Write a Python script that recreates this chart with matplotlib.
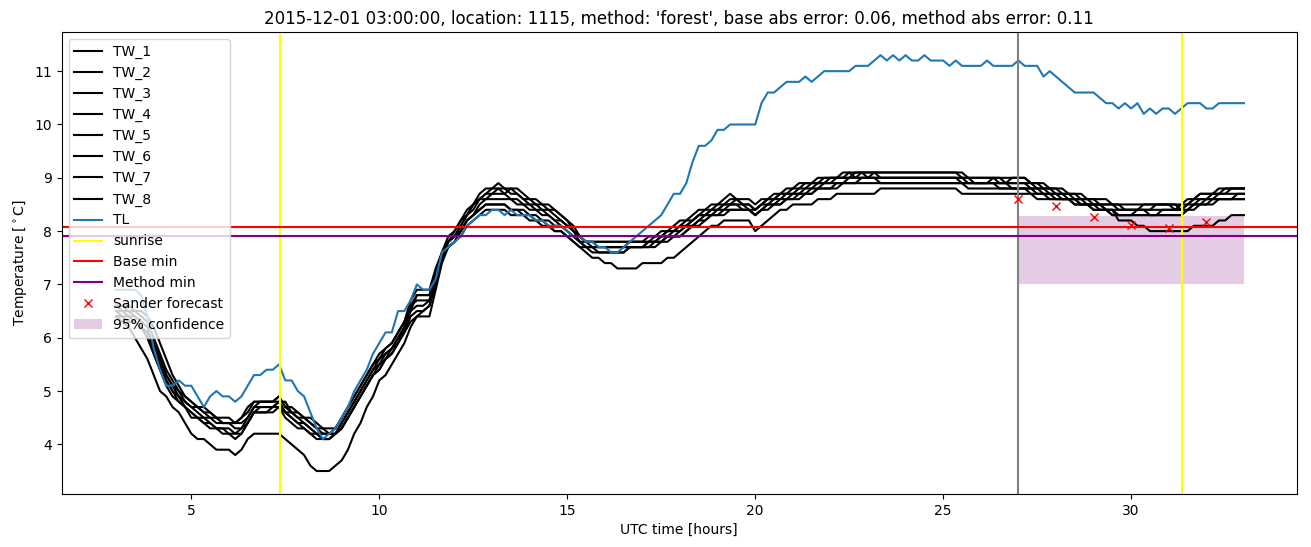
import numpy as np
import matplotlib
matplotlib.use("Agg")
import matplotlib.pyplot as plt

# 10-minute samples from 03:00 to 33:00 UTC (hours since 2015-11-30 00:00)
hours = 3 + np.arange(181) / 6

# road surface temperatures, one row per hour
tw_1 = [6.6, 6.6, 6.5, 6.5, 6.4, 6.3,
        6.0, 5.7, 5.4, 5.2, 5.0, 4.9,
        4.8, 4.7, 4.7, 4.6, 4.5, 4.5,
        4.5, 4.4, 4.5, 4.7, 4.8, 4.8,
        4.8, 4.8, 4.9, 4.7, 4.7, 4.6,
        4.5, 4.4, 4.3, 4.3, 4.3, 4.3,
        4.5, 4.7, 4.9, 5.1, 5.3, 5.5,
        5.7, 5.8, 5.9, 6.1, 6.3, 6.7,
        6.9, 6.9, 6.9, 7.3, 7.6, 7.9,
        8.0, 8.2, 8.4, 8.5, 8.7, 8.8,
        8.8, 8.9, 8.8, 8.8, 8.8, 8.7,
        8.6, 8.6, 8.5, 8.5, 8.4, 8.3,
        8.2, 8.1, 7.9, 7.8, 7.8, 7.8,
        7.8, 7.8, 7.8, 7.8, 7.8, 7.8,
        7.8, 7.9, 7.9, 8.0, 8.0, 8.1,
        8.2, 8.2, 8.3, 8.4, 8.4, 8.5,
        8.5, 8.6, 8.7, 8.6, 8.6, 8.6,
        8.5, 8.6, 8.6, 8.7, 8.7, 8.8,
        8.8, 8.9, 8.9, 8.9, 9.0, 9.0,
        9.0, 9.0, 9.1, 9.1, 9.1, 9.1,
        9.1, 9.1, 9.1, 9.1, 9.1, 9.1,
        9.1, 9.1, 9.1, 9.1, 9.1, 9.1,
        9.1, 9.1, 9.1, 9.0, 9.0, 9.0,
        9.0, 9.0, 9.0, 9.0, 9.0, 9.0,
        9.0, 9.0, 8.9, 8.9, 8.8, 8.8,
        8.8, 8.8, 8.7, 8.7, 8.7, 8.6,
        8.6, 8.6, 8.6, 8.5, 8.5, 8.5,
        8.5, 8.5, 8.5, 8.5, 8.5, 8.5,
        8.5, 8.5, 8.5, 8.6, 8.6, 8.7,
        8.7, 8.7, 8.8, 8.8, 8.8, 8.8,
        8.8]
tw_2 = [6.6, 6.6, 6.6, 6.5, 6.5, 6.4,
        6.2, 5.9, 5.6, 5.3, 5.1, 4.9,
        4.8, 4.7, 4.6, 4.6, 4.5, 4.4,
        4.4, 4.4, 4.4, 4.5, 4.7, 4.8,
        4.8, 4.8, 4.8, 4.8, 4.6, 4.6,
        4.5, 4.5, 4.4, 4.3, 4.2, 4.2,
        4.3, 4.5, 4.7, 4.9, 5.1, 5.3,
        5.5, 5.7, 5.8, 6.0, 6.2, 6.5,
        6.8, 6.8, 6.8, 7.1, 7.5, 7.8,
        7.9, 8.1, 8.3, 8.5, 8.6, 8.7,
        8.8, 8.8, 8.7, 8.8, 8.7, 8.6,
        8.6, 8.5, 8.5, 8.4, 8.4, 8.3,
        8.2, 8.0, 7.9, 7.8, 7.8, 7.7,
        7.7, 7.7, 7.7, 7.7, 7.7, 7.7,
        7.7, 7.8, 7.8, 7.9, 8.0, 8.0,
        8.1, 8.2, 8.2, 8.3, 8.4, 8.4,
        8.5, 8.5, 8.5, 8.6, 8.5, 8.5,
        8.4, 8.5, 8.6, 8.6, 8.7, 8.7,
        8.8, 8.8, 8.9, 8.9, 8.9, 9.0,
        9.0, 9.0, 9.0, 9.1, 9.0, 9.1,
        9.1, 9.1, 9.0, 9.0, 9.0, 9.0,
        9.0, 9.0, 9.0, 9.0, 9.0, 9.0,
        9.0, 9.0, 9.0, 9.0, 9.0, 8.9,
        8.9, 8.9, 9.0, 9.0, 8.9, 8.9,
        8.9, 8.9, 8.9, 8.8, 8.8, 8.8,
        8.7, 8.7, 8.7, 8.6, 8.6, 8.6,
        8.5, 8.5, 8.5, 8.5, 8.4, 8.4,
        8.4, 8.4, 8.4, 8.4, 8.5, 8.5,
        8.5, 8.5, 8.4, 8.5, 8.6, 8.6,
        8.6, 8.7, 8.7, 8.7, 8.8, 8.8,
        8.8]
tw_3 = [6.5, 6.5, 6.4, 6.4, 6.3, 6.2,
        5.9, 5.6, 5.3, 5.1, 4.9, 4.8,
        4.7, 4.6, 4.5, 4.5, 4.4, 4.4,
        4.4, 4.3, 4.3, 4.5, 4.7, 4.7,
        4.7, 4.7, 4.8, 4.6, 4.6, 4.5,
        4.4, 4.3, 4.2, 4.2, 4.2, 4.2,
        4.4, 4.6, 4.8, 5.0, 5.2, 5.4,
        5.6, 5.7, 5.8, 6.0, 6.2, 6.6,
        6.7, 6.7, 6.7, 7.2, 7.6, 7.8,
        7.9, 8.1, 8.3, 8.4, 8.6, 8.6,
        8.7, 8.7, 8.7, 8.6, 8.6, 8.5,
        8.5, 8.4, 8.4, 8.3, 8.2, 8.2,
        8.1, 8.0, 7.8, 7.8, 7.7, 7.7,
        7.7, 7.7, 7.7, 7.7, 7.8, 7.8,
        7.8, 7.8, 7.8, 7.9, 7.9, 8.0,
        8.0, 8.1, 8.2, 8.3, 8.3, 8.4,
        8.4, 8.5, 8.5, 8.5, 8.5, 8.4,
        8.4, 8.5, 8.5, 8.6, 8.6, 8.7,
        8.7, 8.7, 8.8, 8.8, 8.9, 8.9,
        8.9, 9.0, 9.0, 9.0, 9.0, 9.0,
        9.0, 9.0, 9.0, 9.0, 9.0, 9.0,
        9.0, 9.0, 9.0, 9.0, 9.0, 9.0,
        9.0, 9.0, 9.0, 8.9, 8.9, 8.9,
        8.9, 8.9, 8.9, 8.9, 8.9, 8.9,
        8.9, 8.9, 8.8, 8.8, 8.8, 8.7,
        8.7, 8.7, 8.6, 8.6, 8.6, 8.5,
        8.5, 8.5, 8.4, 8.4, 8.4, 8.4,
        8.4, 8.4, 8.4, 8.4, 8.4, 8.4,
        8.4, 8.4, 8.4, 8.5, 8.5, 8.6,
        8.6, 8.6, 8.7, 8.7, 8.7, 8.7,
        8.7]
tw_4 = [6.5, 6.4, 6.4, 6.3, 6.2, 6.1,
        5.8, 5.5, 5.2, 5.0, 4.9, 4.7,
        4.6, 4.5, 4.5, 4.4, 4.3, 4.3,
        4.3, 4.2, 4.3, 4.4, 4.6, 4.7,
        4.7, 4.7, 4.8, 4.6, 4.5, 4.4,
        4.4, 4.3, 4.2, 4.1, 4.1, 4.2,
        4.4, 4.6, 4.8, 5.0, 5.2, 5.4,
        5.5, 5.6, 5.8, 5.9, 6.2, 6.5,
        6.6, 6.6, 6.7, 7.1, 7.5, 7.8,
        7.9, 8.0, 8.2, 8.3, 8.5, 8.6,
        8.6, 8.6, 8.6, 8.6, 8.5, 8.5,
        8.4, 8.4, 8.3, 8.3, 8.2, 8.1,
        8.0, 7.9, 7.8, 7.7, 7.7, 7.7,
        7.7, 7.7, 7.7, 7.7, 7.7, 7.7,
        7.7, 7.8, 7.8, 7.8, 7.9, 7.9,
        8.0, 8.1, 8.1, 8.2, 8.3, 8.3,
        8.4, 8.4, 8.5, 8.5, 8.4, 8.4,
        8.3, 8.4, 8.5, 8.5, 8.6, 8.6,
        8.7, 8.7, 8.7, 8.8, 8.8, 8.9,
        8.9, 8.9, 8.9, 9.0, 9.0, 9.0,
        9.0, 9.0, 9.0, 9.0, 9.0, 9.0,
        9.0, 9.0, 9.0, 9.0, 9.0, 9.0,
        9.0, 9.0, 9.0, 9.0, 8.9, 8.9,
        8.9, 8.9, 8.9, 8.9, 8.9, 8.8,
        8.8, 8.8, 8.8, 8.8, 8.7, 8.7,
        8.7, 8.6, 8.6, 8.6, 8.5, 8.5,
        8.5, 8.4, 8.4, 8.4, 8.3, 8.3,
        8.3, 8.4, 8.4, 8.3, 8.3, 8.4,
        8.4, 8.4, 8.4, 8.4, 8.5, 8.5,
        8.6, 8.6, 8.6, 8.6, 8.6, 8.7,
        8.7]
tw_5 = [6.4, 6.4, 6.3, 6.3, 6.2, 6.0,
        5.7, 5.4, 5.2, 5.0, 4.8, 4.7,
        4.6, 4.5, 4.4, 4.4, 4.3, 4.3,
        4.2, 4.2, 4.2, 4.4, 4.6, 4.6,
        4.6, 4.7, 4.7, 4.6, 4.5, 4.4,
        4.3, 4.2, 4.2, 4.1, 4.1, 4.2,
        4.3, 4.5, 4.7, 4.9, 5.1, 5.3,
        5.4, 5.6, 5.7, 5.9, 6.1, 6.4,
        6.5, 6.5, 6.6, 7.0, 7.5, 7.7,
        7.8, 8.0, 8.2, 8.3, 8.4, 8.5,
        8.5, 8.5, 8.5, 8.4, 8.4, 8.4,
        8.3, 8.3, 8.2, 8.2, 8.1, 8.1,
        8.0, 7.9, 7.8, 7.7, 7.7, 7.6,
        7.6, 7.6, 7.6, 7.6, 7.7, 7.7,
        7.7, 7.7, 7.7, 7.8, 7.8, 7.9,
        7.9, 8.0, 8.1, 8.2, 8.2, 8.3,
        8.3, 8.4, 8.4, 8.4, 8.4, 8.4,
        8.3, 8.4, 8.4, 8.5, 8.5, 8.6,
        8.6, 8.7, 8.7, 8.7, 8.8, 8.8,
        8.8, 8.9, 8.9, 8.9, 8.9, 9.0,
        9.0, 9.0, 8.9, 8.9, 8.9, 8.9,
        8.9, 8.9, 8.9, 8.9, 8.9, 8.9,
        8.9, 8.9, 8.9, 8.9, 8.9, 8.9,
        8.9, 8.9, 8.9, 8.8, 8.8, 8.8,
        8.8, 8.8, 8.8, 8.7, 8.7, 8.7,
        8.6, 8.6, 8.6, 8.5, 8.5, 8.5,
        8.4, 8.4, 8.4, 8.3, 8.3, 8.3,
        8.3, 8.3, 8.3, 8.3, 8.3, 8.3,
        8.3, 8.3, 8.3, 8.4, 8.4, 8.5,
        8.5, 8.5, 8.6, 8.6, 8.6, 8.6,
        8.6]
tw_6 = [6.4, 6.4, 6.3, 6.3, 6.2, 6.0,
        5.7, 5.4, 5.1, 4.9, 4.8, 4.7,
        4.5, 4.5, 4.4, 4.3, 4.3, 4.2,
        4.2, 4.1, 4.2, 4.4, 4.6, 4.6,
        4.6, 4.6, 4.7, 4.5, 4.4, 4.3,
        4.3, 4.2, 4.1, 4.1, 4.1, 4.2,
        4.3, 4.5, 4.7, 4.9, 5.1, 5.3,
        5.4, 5.6, 5.7, 5.9, 6.1, 6.3,
        6.4, 6.5, 6.6, 7.0, 7.5, 7.7,
        7.8, 7.9, 8.1, 8.2, 8.3, 8.4,
        8.4, 8.4, 8.4, 8.3, 8.3, 8.3,
        8.2, 8.2, 8.1, 8.1, 8.0, 8.0,
        7.9, 7.8, 7.7, 7.7, 7.6, 7.6,
        7.6, 7.6, 7.6, 7.6, 7.7, 7.7,
        7.7, 7.7, 7.8, 7.8, 7.9, 7.9,
        7.9, 8.0, 8.1, 8.1, 8.2, 8.3,
        8.3, 8.3, 8.4, 8.4, 8.4, 8.4,
        8.3, 8.4, 8.5, 8.5, 8.5, 8.6,
        8.6, 8.6, 8.7, 8.7, 8.8, 8.8,
        8.8, 8.8, 8.9, 8.9, 8.9, 8.9,
        8.9, 8.9, 8.9, 8.9, 8.9, 8.9,
        8.9, 8.9, 8.9, 8.9, 8.9, 8.9,
        8.9, 8.9, 8.9, 8.9, 8.8, 8.8,
        8.8, 8.8, 8.8, 8.8, 8.8, 8.8,
        8.8, 8.8, 8.7, 8.7, 8.7, 8.6,
        8.6, 8.6, 8.6, 8.5, 8.5, 8.5,
        8.4, 8.4, 8.4, 8.3, 8.3, 8.3,
        8.3, 8.3, 8.3, 8.3, 8.3, 8.3,
        8.3, 8.3, 8.3, 8.4, 8.5, 8.5,
        8.5, 8.6, 8.6, 8.6, 8.6, 8.6,
        8.6]
tw_7 = [6.6, 6.5, 6.5, 6.4, 6.3, 6.2,
        5.9, 5.6, 5.3, 5.1, 5.0, 4.8,
        4.7, 4.7, 4.6, 4.5, 4.5, 4.4,
        4.4, 4.4, 4.5, 4.6, 4.8, 4.8,
        4.8, 4.8, 4.9, 4.7, 4.6, 4.5,
        4.5, 4.4, 4.3, 4.2, 4.2, 4.3,
        4.5, 4.7, 4.9, 5.1, 5.3, 5.5,
        5.6, 5.8, 5.9, 6.1, 6.3, 6.6,
        6.8, 6.8, 6.8, 7.2, 7.6, 7.8,
        8.0, 8.2, 8.3, 8.5, 8.6, 8.7,
        8.7, 8.8, 8.8, 8.7, 8.7, 8.6,
        8.5, 8.5, 8.4, 8.4, 8.3, 8.2,
        8.1, 8.0, 7.9, 7.8, 7.8, 7.8,
        7.8, 7.8, 7.8, 7.8, 7.8, 7.8,
        7.8, 7.8, 7.9, 7.9, 8.0, 8.0,
        8.1, 8.1, 8.2, 8.3, 8.3, 8.4,
        8.4, 8.5, 8.6, 8.6, 8.5, 8.5,
        8.4, 8.5, 8.6, 8.6, 8.7, 8.7,
        8.7, 8.8, 8.8, 8.9, 8.9, 8.9,
        9.0, 9.0, 9.0, 9.0, 9.1, 9.1,
        9.0, 9.1, 9.1, 9.1, 9.1, 9.1,
        9.1, 9.1, 9.1, 9.1, 9.1, 9.1,
        9.1, 9.1, 9.1, 9.1, 9.0, 9.0,
        9.0, 9.0, 9.0, 8.9, 8.9, 9.0,
        9.0, 9.0, 8.9, 8.9, 8.9, 8.8,
        8.8, 8.7, 8.7, 8.7, 8.6, 8.6,
        8.6, 8.5, 8.5, 8.5, 8.5, 8.4,
        8.4, 8.4, 8.5, 8.5, 8.5, 8.5,
        8.5, 8.4, 8.5, 8.5, 8.6, 8.7,
        8.7, 8.7, 8.7, 8.8, 8.8, 8.8,
        8.8]
tw_8 = [6.4, 6.3, 6.2, 6.0, 5.8, 5.6,
        5.3, 5.0, 4.9, 4.7, 4.6, 4.4,
        4.2, 4.1, 4.1, 4.0, 3.9, 3.9,
        3.9, 3.8, 3.9, 4.1, 4.2, 4.2,
        4.2, 4.2, 4.2, 4.1, 4.0, 3.9,
        3.8, 3.6, 3.5, 3.5, 3.5, 3.6,
        3.7, 3.9, 4.2, 4.4, 4.7, 4.9,
        5.2, 5.3, 5.5, 5.7, 5.9, 6.2,
        6.4, 6.4, 6.4, 6.9, 7.4, 7.7,
        7.8, 8.0, 8.2, 8.3, 8.4, 8.5,
        8.5, 8.5, 8.5, 8.4, 8.4, 8.3,
        8.3, 8.2, 8.2, 8.1, 8.0, 8.0,
        7.9, 7.8, 7.7, 7.6, 7.5, 7.5,
        7.4, 7.4, 7.3, 7.3, 7.3, 7.3,
        7.4, 7.4, 7.4, 7.4, 7.5, 7.5,
        7.6, 7.7, 7.8, 7.9, 8.0, 8.1,
        8.1, 8.2, 8.2, 8.2, 8.2, 8.2,
        8.0, 8.1, 8.2, 8.3, 8.4, 8.4,
        8.5, 8.5, 8.5, 8.5, 8.6, 8.6,
        8.6, 8.7, 8.7, 8.7, 8.7, 8.7,
        8.7, 8.7, 8.8, 8.8, 8.8, 8.8,
        8.8, 8.8, 8.8, 8.8, 8.8, 8.8,
        8.8, 8.8, 8.8, 8.7, 8.7, 8.7,
        8.7, 8.7, 8.7, 8.7, 8.7, 8.7,
        8.7, 8.7, 8.7, 8.6, 8.6, 8.6,
        8.6, 8.6, 8.6, 8.6, 8.5, 8.5,
        8.5, 8.5, 8.4, 8.4, 8.2, 8.2,
        8.2, 8.1, 8.1, 8.0, 8.0, 8.0,
        8.0, 8.0, 8.0, 8.0, 8.1, 8.1,
        8.1, 8.1, 8.2, 8.2, 8.3, 8.3,
        8.3]

# air temperature
tl = [6.9, 6.9, 6.9, 6.9, 6.8, 6.4,
      5.8, 5.4, 5.1, 5.1, 5.2, 5.1,
      5.1, 4.9, 4.7, 4.9, 5.0, 4.9,
      4.9, 4.8, 4.9, 5.1, 5.3, 5.3,
      5.4, 5.4, 5.5, 5.2, 5.2, 5.0,
      4.9, 4.6, 4.3, 4.1, 4.2, 4.3,
      4.5, 4.7, 5.0, 5.2, 5.4, 5.7,
      5.9, 6.1, 6.1, 6.5, 6.5, 6.7,
      7.0, 6.9, 6.9, 7.1, 7.6, 7.7,
      7.8, 7.9, 8.1, 8.2, 8.3, 8.3,
      8.4, 8.4, 8.3, 8.4, 8.3, 8.3,
      8.3, 8.2, 8.2, 8.1, 8.1, 8.1,
      8.0, 7.9, 7.9, 7.8, 7.8, 7.7,
      7.7, 7.6, 7.6, 7.7, 7.8, 7.9,
      8.0, 8.1, 8.2, 8.3, 8.5, 8.7,
      8.7, 8.9, 9.3, 9.6, 9.6, 9.7,
      9.9, 9.9, 10.0, 10.0, 10.0, 10.0,
      10.0, 10.4, 10.6, 10.6, 10.7, 10.8,
      10.8, 10.8, 10.9, 10.8, 10.9, 11.0,
      11.0, 11.0, 11.0, 11.0, 11.1, 11.1,
      11.1, 11.2, 11.3, 11.2, 11.3, 11.2,
      11.3, 11.2, 11.2, 11.3, 11.2, 11.2,
      11.2, 11.1, 11.2, 11.1, 11.1, 11.1,
      11.1, 11.2, 11.1, 11.1, 11.1, 11.1,
      11.2, 11.1, 11.1, 11.1, 10.9, 11.0,
      10.9, 10.8, 10.7, 10.6, 10.6, 10.6,
      10.6, 10.5, 10.4, 10.4, 10.3, 10.4,
      10.3, 10.4, 10.2, 10.3, 10.2, 10.3,
      10.3, 10.2, 10.3, 10.4, 10.4, 10.4,
      10.3, 10.3, 10.4, 10.4, 10.4, 10.4,
      10.4]

tw_series = [tw_1, tw_2, tw_3, tw_4, tw_5, tw_6, tw_7, tw_8]
tw_labels = ['TW_1', 'TW_2', 'TW_3', 'TW_4', 'TW_5', 'TW_6', 'TW_7', 'TW_8']

sunrise = [7.35, 31.35]
forecast_time = 27
base_min = 8.07
method_min = 7.9

sander_hours = [27, 28, 29, 30, 31, 32]
sander_temp = [8.6, 8.48, 8.27, 8.12, 8.06, 8.17]

conf_hours = [27, 33]
conf_low = 7.0
conf_high = 8.28

fig, ax = plt.subplots(figsize=(13.11, 5.47), dpi=100)
fig.subplots_adjust(left=0.047, right=0.989, top=0.941, bottom=0.097)

for vals, lab in zip(tw_series, tw_labels):
    ax.plot(hours, vals, color='black', label=lab)
ax.plot(hours, tl, color='tab:blue', label='TL')

ax.axvline(sunrise[0], color='yellow', label='sunrise')
ax.axvline(sunrise[1], color='yellow')
ax.axvline(forecast_time, color='gray')
ax.axhline(base_min, color='red', label='Base min')
ax.axhline(method_min, color='purple', label='Method min')
ax.plot(sander_hours, sander_temp, 'rx', label='Sander forecast')
ax.fill_between(conf_hours, conf_low, conf_high, color='purple', alpha=0.2,
                linewidth=0, label='95% confidence')

ax.set_xlim(1.55, 34.4)
ax.set_ylim(3.07, 11.73)
ax.set_title("2015-12-01 03:00:00, location: 1115, method: 'forest', "
             "base abs error: 0.06, method abs error: 0.11")
ax.set_xlabel('UTC time [hours]')
ax.set_ylabel(r'Temperature [$^\circ$C]')
ax.legend(loc='upper left')

fig.savefig('out.png')
